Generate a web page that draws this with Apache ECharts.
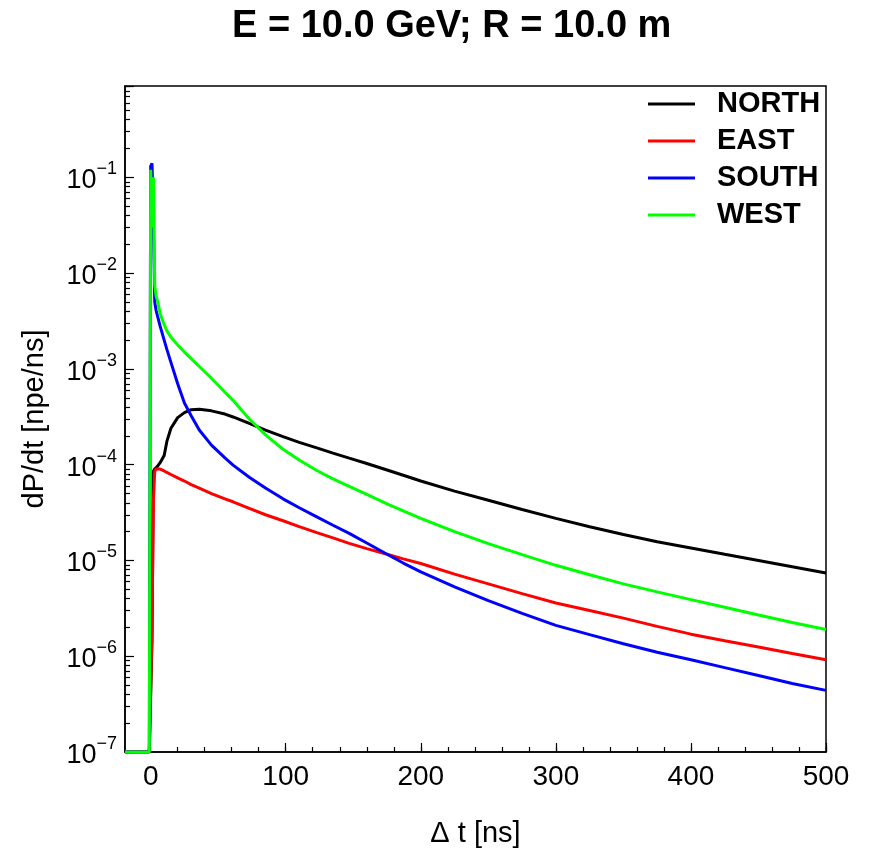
<!DOCTYPE html>
<html>
<head>
<meta charset="utf-8">
<script src="https://cdn.jsdelivr.net/npm/echarts@6/dist/echarts.min.js"></script>
<style>
html,body{margin:0;padding:0;background:#fff;}
#c{width:876px;height:849px;}
</style>
</head>
<body>
<div id="c"></div>
<script>
const titleText = 'E = 10.0 GeV; R = 10.0 m';
const seriesNames = ['NORTH', 'EAST', 'SOUTH', 'WEST'];
const seriesColors = ['#000000', '#ff0000', '#0000ff', '#00ff00'];

const dt = [-19, -1, 0, 1, 2, 3, 4, 5, 7, 10, 12, 15, 20, 25, 30, 36, 45, 55, 61, 73, 85, 98, 110, 123, 135, 147, 160, 175, 187, 200, 225, 250, 275, 300, 325, 350, 375, 400, 425, 450, 475, 500];

const north = [1e-7, 1e-7, 1e-7, 1.5e-6, 8.5e-5, 9e-5, 9.2e-5, 9.6e-5, 1.05e-4, 1.25e-4, 1.75e-4, 2.4e-4, 3.1e-4, 3.5e-4, 3.75e-4, 3.8e-4, 3.65e-4, 3.38e-4, 3.15e-4, 2.7e-4, 2.3e-4, 1.96e-4, 1.71e-4, 1.5e-4, 1.32e-4, 1.17e-4, 1.03e-4, 8.8e-5, 7.75e-5, 6.75e-5, 5.3e-5, 4.25e-5, 3.4e-5, 2.75e-5, 2.25e-5, 1.87e-5, 1.57e-5, 1.35e-5, 1.16e-5, 1.0e-5, 8.6e-6, 7.4e-6];

const east = [1e-7, 1e-7, 1e-7, 2e-6, 4e-5, 8.5e-5, 9e-5, 9.2e-5, 9.0e-5, 8.6e-5, 8.3e-5, 7.9e-5, 7.3e-5, 6.75e-5, 6.2e-5, 5.7e-5, 5.0e-5, 4.4e-5, 4.1e-5, 3.5e-5, 3.0e-5, 2.6e-5, 2.26e-5, 1.95e-5, 1.72e-5, 1.51e-5, 1.33e-5, 1.16e-5, 1.04e-5, 9.3e-6, 7.2e-6, 5.7e-6, 4.5e-6, 3.6e-6, 3.0e-6, 2.5e-6, 2.05e-6, 1.7e-6, 1.45e-6, 1.25e-6, 1.07e-6, 9.2e-7];

const south = [1e-7, 1e-7, 0.13, 0.14, 0.04, 0.005, 0.0041, 0.0036, 0.0028, 0.002, 0.0016, 0.00117, 7.0e-4, 4.4e-4, 3.25e-4, 2.3e-4, 1.6e-4, 1.18e-4, 9.9e-5, 7.4e-5, 5.7e-5, 4.4e-5, 3.55e-5, 2.85e-5, 2.33e-5, 1.92e-5, 1.52e-5, 1.16e-5, 9.4e-6, 7.6e-6, 5.3e-6, 3.8e-6, 2.8e-6, 2.1e-6, 1.68e-6, 1.35e-6, 1.1e-6, 9.2e-7, 7.6e-7, 6.3e-7, 5.2e-7, 4.4e-7];

const west = [1e-7, 1e-7, 0.12, 0.03, 0.1, 0.0075, 0.0058, 0.0052, 0.0038, 0.0029, 0.0025, 0.00215, 0.00178, 0.0015, 0.00128, 0.00106, 8.0e-4, 5.7e-4, 4.7e-4, 3.0e-4, 2.05e-4, 1.45e-4, 1.12e-4, 8.7e-5, 7.1e-5, 5.95e-5, 4.9e-5, 3.9e-5, 3.3e-5, 2.75e-5, 2.0e-5, 1.5e-5, 1.15e-5, 8.9e-6, 7.1e-6, 5.7e-6, 4.7e-6, 3.9e-6, 3.25e-6, 2.7e-6, 2.25e-6, 1.9e-6];

const xRange = [-19, 500];
const yRange = [1e-7, 0.9];
const xMajorTicks = [0, 100, 200, 300, 400, 500];
const xMinorTicks = [0, 20, 40, 60, 80, 100, 120, 140, 160, 180, 200, 220, 240, 260, 280, 300, 320, 340, 360, 380, 400, 420, 440, 460, 480, 500];
const yTickExponents = [-7, -6, -5, -4, -3, -2, -1];
const yMinorMultipliers = [2, 3, 4, 5, 6, 7, 8, 9];

const FONT = 'Liberation Sans';
const allSeries = [north, east, south, west];

const yMinorLog = [];
for (let e = -7; e <= 0; e++) {
  yMinorMultipliers.forEach(m => {
    const v = Math.log10(m) + e;
    if (v <= Math.log10(yRange[1])) yMinorLog.push(v);
  });
}

const chart = echarts.init(document.getElementById('c'), null, {renderer: 'canvas'});
chart.setOption({
  animation: false,
  backgroundColor: '#fff',
  title: {
    text: titleText,
    left: 227, top: 3,
    textStyle: {fontFamily: FONT, fontWeight: 'bold', fontSize: 38, color: '#000'}
  },
  legend: {
    data: seriesNames,
    orient: 'vertical',
    left: 643, top: 84,
    icon: 'rect',
    itemWidth: 47, itemHeight: 3,
    itemGap: 7,
    textStyle: {fontFamily: FONT, fontWeight: 'bold', fontSize: 29, color: '#000', lineHeight: 30, padding: [0, 0, 0, 17]}
  },
  grid: {
    left: 125, right: 50, top: 86, bottom: 97,
    outerBoundsMode: 'none', containLabel: false,
    show: true, borderColor: '#000', borderWidth: 1.5, backgroundColor: 'transparent'
  },
  xAxis: [{
    type: 'value', min: xRange[0], max: xRange[1], position: 'bottom',
    name: 'Δ t [ns]', nameLocation: 'middle', nameGap: 67,
    nameTextStyle: {fontFamily: FONT, fontSize: 29, color: '#000'},
    axisLine: {show: true, onZero: false, lineStyle: {color: '#000', width: 1.5}},
    axisTick: {show: true, inside: true, length: 9, customValues: xMajorTicks, lineStyle: {color: '#000', width: 1.2}},
    axisLabel: {customValues: xMajorTicks, margin: 11, fontFamily: FONT, fontSize: 28, color: '#000'},
    splitLine: {show: false}
  }, {
    type: 'value', min: xRange[0], max: xRange[1], position: 'bottom',
    axisLine: {show: false, onZero: false},
    axisTick: {show: true, inside: true, length: 5, customValues: xMinorTicks, lineStyle: {color: '#000', width: 1.2}},
    axisLabel: {show: false},
    splitLine: {show: false}
  }],
  yAxis: [{
    type: 'log', logBase: 10, min: yRange[0], max: yRange[1], splitNumber: 7, position: 'left',
    name: 'dP/dt [npe/ns]', nameLocation: 'middle', nameGap: 76, nameRotate: 90,
    nameTextStyle: {fontFamily: FONT, fontSize: 29, color: '#000'},
    axisLine: {show: true, onZero: false, lineStyle: {color: '#000', width: 1.5}},
    axisTick: {show: true, inside: true, length: 9, lineStyle: {color: '#000', width: 1.2}},
    axisLabel: {
      margin: 8, fontFamily: FONT, color: '#000',
      formatter: function (v) {
        const lg = Math.log10(v);
        const e = Math.round(lg);
        if (Math.abs(lg - e) > 1e-6 || yTickExponents.indexOf(e) < 0) return '';
        return '{b|10}{s|' + (e < 0 ? '\u2212' : '') + Math.abs(e) + '}';
      },
      rich: {
        b: {fontFamily: FONT, fontSize: 27, color: '#000', verticalAlign: 'bottom', lineHeight: 34},
        s: {fontFamily: FONT, fontSize: 18, color: '#000', verticalAlign: 'top', lineHeight: 20}
      }
    },
    splitLine: {show: false}
  }, {
    type: 'value', min: Math.log10(yRange[0]), max: Math.log10(yRange[1]), position: 'left',
    axisLine: {show: false, onZero: false},
    axisTick: {show: true, inside: true, length: 5, customValues: yMinorLog, lineStyle: {color: '#000', width: 1.2}},
    axisLabel: {show: false},
    splitLine: {show: false}
  }],
  series: allSeries.map((vals, i) => ({
    name: seriesNames[i],
    type: 'line',
    xAxisIndex: 0, yAxisIndex: 0,
    showSymbol: false, symbol: 'none',
    color: seriesColors[i],
    lineStyle: {color: seriesColors[i], width: 3},
    data: dt.map((t, k) => [t, vals[k]]),
    z: 2 + i
  }))
});
</script>
</body>
</html>
